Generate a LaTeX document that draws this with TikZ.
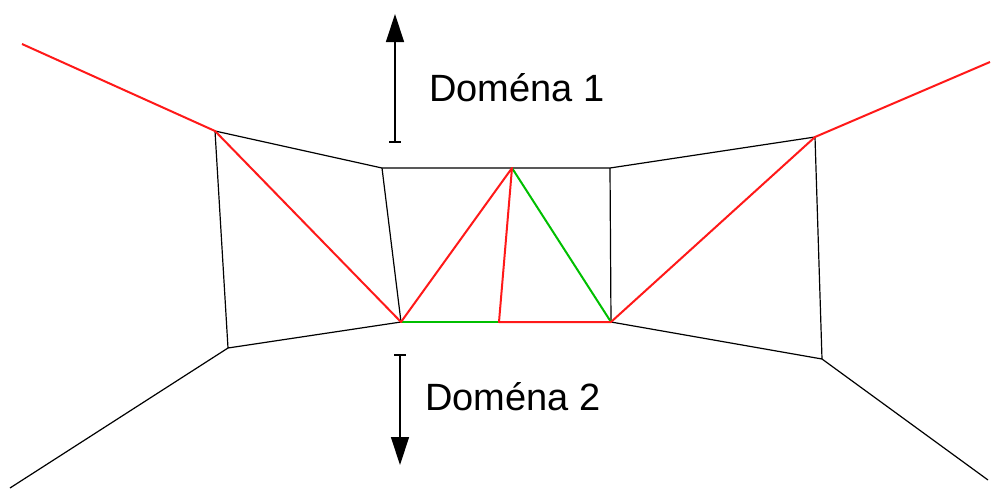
\documentclass[tikz,border=0pt]{standalone}
\usepackage{fontspec}
\setmainfont{Liberation Sans}
\usetikzlibrary{arrows.meta,calc}
\begin{document}
\begin{tikzpicture}[x=1pt,y=-1pt,
  blk/.style={black,line width=1.2pt},
  redl/.style={red!90!white,line width=2pt,line join=round},
  grn/.style={green!75!black,line width=2pt},
  lbl/.style={font=\fontsize{38}{40}\selectfont,inner sep=0pt},
  arr/.style={line width=1.3pt,-{Triangle[width=18pt,length=28pt]}}]
\useasboundingbox (0,0) rectangle (991,498);
\coordinate (L0) at (22,44);
\coordinate (A) at (215,131);
\coordinate (B) at (382,168);
\coordinate (P) at (512,168);
\coordinate (C) at (610,168);
\coordinate (D) at (815,137);
\coordinate (R0) at (990,62);
\coordinate (E) at (228,348);
\coordinate (F) at (401,322);
\coordinate (M) at (499,322);
\coordinate (G) at (611,322);
\coordinate (H) at (822,359);
\coordinate (LB) at (10,488);
\coordinate (RB) at (988,480);
% black mesh
\draw[blk] (A) -- (B) -- (C) -- (D);
\draw[blk] (A) -- (E) -- (F) -- (B);
\draw[blk] (C) -- (G) -- (H) -- (D);
\draw[blk] (E) -- (LB);
\draw[blk] (H) -- (RB);
% green
\draw[grn] (F) -- (M);
\draw[grn] (P) -- (G);
% red
\draw[redl] (L0) -- (A) -- (F) -- (P) -- (M) -- (G) -- (D) -- (R0);
% arrows
\coordinate (U0) at (395,142);
\coordinate (U1) at (395,14);
\coordinate (D0) at (400,355);
\coordinate (D1) at (400,465);
\coordinate (U0a) at (389,142);
\coordinate (U0b) at (401,142);
\coordinate (D0a) at (394,355);
\coordinate (D0b) at (406,355);
\draw[arr] (U0) -- (U1);
\draw[line width=1.3pt] (U0a) -- (U0b);
\draw[arr] (D0) -- (D1);
\draw[line width=1.3pt] (D0a) -- (D0b);
\node[lbl] (t1) at (517,88) {Doména 1};
\node[lbl] (t2) at (513,397) {Doména 2};
\end{tikzpicture}
\end{document}
